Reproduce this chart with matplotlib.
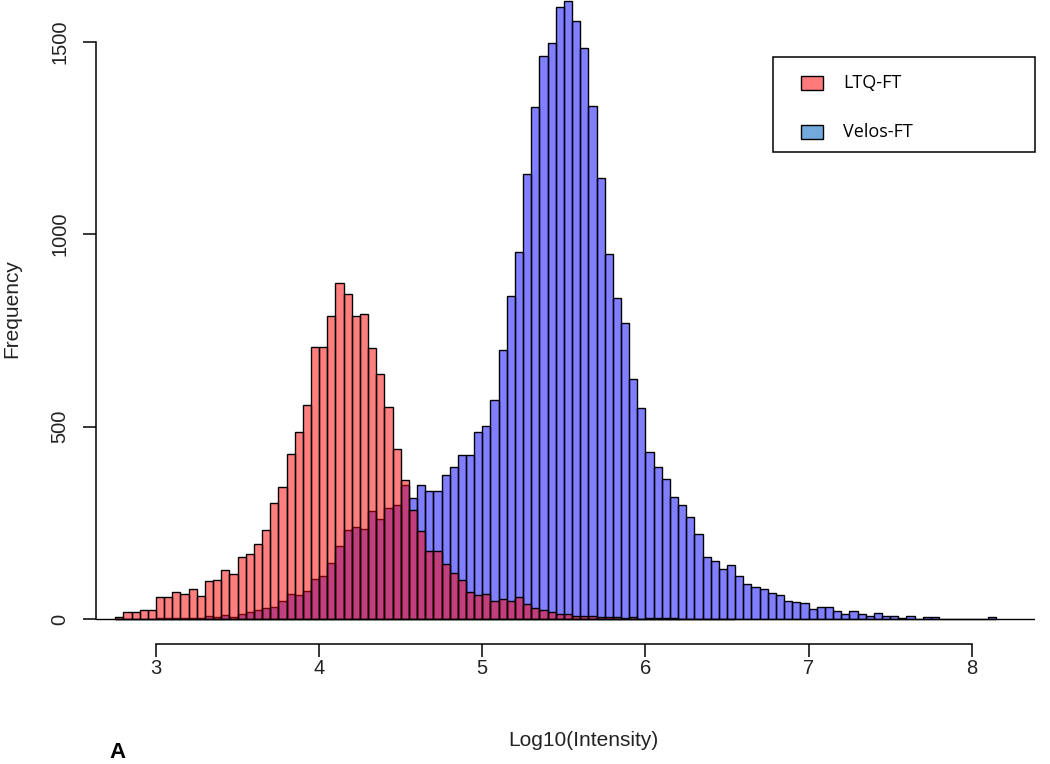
import numpy as np
import matplotlib
matplotlib.use("Agg")
import matplotlib.pyplot as plt
from matplotlib.patches import Rectangle

# histogram bins: width 0.05, first bin starts at 2.75
bin_start = 2.75
bin_width = 0.05

ltq_counts = [4, 17, 17, 24, 24, 56, 56, 69, 66, 77,
              59, 99, 102, 127, 118, 162, 168, 194, 231, 301,
              343, 428, 487, 556, 706, 706, 788, 872, 844, 788,
              792, 704, 637, 550, 441, 361, 284, 228, 176, 176,
              144, 120, 101, 70, 62, 66, 48, 52, 46, 56,
              39, 28, 24, 17, 13, 13, 9, 9, 9, 6,
              4, 4, 2, 4, 1, 3, 3, 3, 2, 1,
              1, 0, 1, 1, 0, 1]

velos_counts = [0, 0, 0, 0, 0, 2, 2, 3, 2, 3,
                2, 8, 4, 10, 6, 14, 18, 24, 28, 30,
                48, 66, 62, 74, 104, 113, 146, 189, 231, 238,
                235, 280, 260, 288, 297, 347, 315, 347, 332, 332,
                375, 395, 425, 427, 486, 501, 570, 699, 839, 954,
                1155, 1330, 1462, 1495, 1589, 1606, 1553, 1484, 1332, 1145,
                948, 833, 770, 623, 549, 433, 394, 363, 317, 295,
                264, 221, 161, 150, 130, 140, 111, 91, 84, 77,
                67, 62, 48, 45, 42, 27, 31, 31, 21, 14,
                21, 14, 9, 15, 7, 7, 3, 8, 0, 4,
                4, 0, 0, 0, 0, 0, 0, 5]

legend_labels = ["LTQ-FT", "Velos-FT"]
legend_colors = ["#ff7b7b", "#72aadd"]
x_ticks = [3, 4, 5, 6, 7, 8]
y_ticks = [0, 500, 1000, 1500]

W, H = 1050, 764
fig = plt.figure(figsize=(W / 100, H / 100), dpi=100)
ax = fig.add_axes([96 / W, 120 / H, (1035 - 96) / W, 644 / H])

font = "Liberation Sans"
txt = "#222222"

ltq_left = bin_start + bin_width * np.arange(len(ltq_counts))
velos_left = bin_start + bin_width * np.arange(len(velos_counts))

ax.bar(velos_left, velos_counts, width=bin_width, align="edge",
       color=(0, 0, 1, 0.5), edgecolor="black", linewidth=1.0)
ax.bar(ltq_left, ltq_counts, width=bin_width, align="edge",
       color=(1, 0, 0, 0.5), edgecolor="black", linewidth=1.0)
ax.axhline(0, color="black", lw=1.0)

ax.set_xlim(2.6322, 8.3877)
ax.set_ylim(-64.9, 1607.8)

for s in ["top", "right"]:
    ax.spines[s].set_visible(False)
ax.spines["left"].set_bounds(0, 1500)
ax.spines["bottom"].set_bounds(3, 8)
ax.spines["left"].set_linewidth(1.1)
ax.spines["bottom"].set_linewidth(1.1)

ax.set_xticks(x_ticks)
ax.set_yticks(y_ticks)
ax.tick_params(length=9.4, width=1.1, labelsize=14.5, colors="black", labelcolor=txt)
ax.tick_params(axis="x", pad=1.5)
ax.tick_params(axis="y", pad=10)
for lab in ax.get_yticklabels():
    lab.set_rotation(90)
    lab.set_va("center")
    lab.set_fontfamily(font)
for lab in ax.get_xticklabels():
    lab.set_fontfamily(font)

fig.text(12 / W, 1 - 309 / H, "Frequency", rotation=90, ha="center", va="center",
         fontsize=15, family=font, color=txt)
fig.text(583 / W, 1 - 740 / H, "Log10(Intensity)", ha="center", va="center",
         fontsize=15, family=font, color=txt)
fig.text(118 / W, 1 - 752 / H, "A", ha="center", va="center",
         fontsize=16, family=font, weight="bold", color="black")

# legend box drawn by hand
def fx(x):
    return x / W

def fy(y):
    return 1 - y / H

fig.add_artist(Rectangle((fx(773), fy(152)), (1035 - 773) / W, (152 - 57) / H,
                         transform=fig.transFigure, facecolor="white",
                         edgecolor="black", lw=1.1))
for i, (lab, col) in enumerate(zip(legend_labels, legend_colors)):
    yc = 83 + 49 * i
    fig.add_artist(Rectangle((fx(801), fy(yc + 7)), 22 / W, 14 / H,
                             transform=fig.transFigure, facecolor=col,
                             edgecolor="black", lw=1.0))
    fig.text(fx(843), fy(yc), lab, ha="left", va="center", fontsize=13,
             family="Open Sans", color="black")

fig.savefig("out.png", dpi=100)
